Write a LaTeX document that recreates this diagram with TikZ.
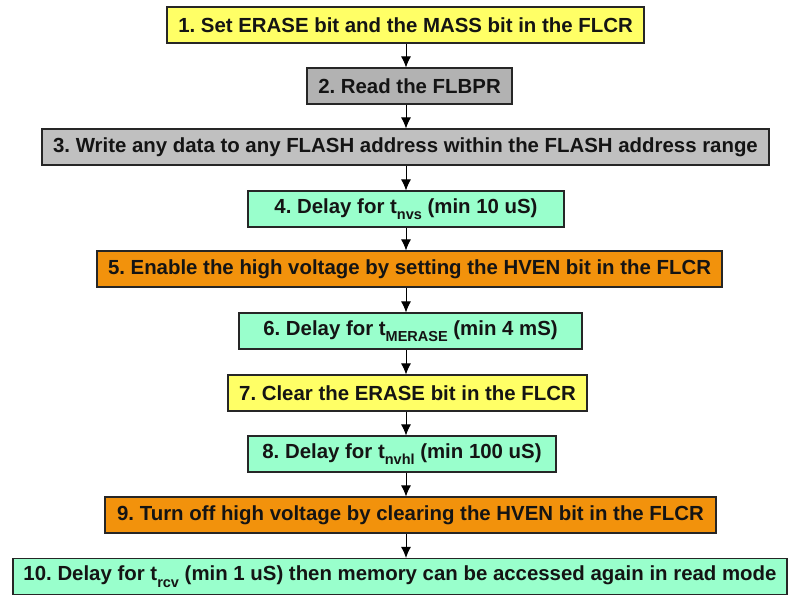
\documentclass[tikz,border=0pt]{standalone}
\usepackage{fontspec}
\setmainfont{Liberation Sans}
\usetikzlibrary{arrows.meta}
\frenchspacing
\definecolor{cyel}{RGB}{255,255,102}
\definecolor{cgrayd}{RGB}{178,178,178}
\definecolor{cgrayl}{RGB}{192,192,192}
\definecolor{cgrn}{RGB}{153,255,204}
\definecolor{corg}{RGB}{242,146,12}
\definecolor{ctxt}{RGB}{20,20,20}
\newcommand\sbs[1]{\raisebox{-0.32em}{\fontsize{14.5}{14.5}\selectfont #1}}
\begin{document}
\begin{tikzpicture}[x=1pt,y=-1pt,
  stepbox/.style={draw=black!85,line width=1.1pt,minimum height=36pt,inner sep=0pt,
     text=ctxt,font=\fontsize{20.4}{24}\selectfont\bfseries},
  arr/.style={line width=1pt,-{Latex[length=11pt,width=10pt]}}]
\useasboundingbox (0,0) rectangle (789,595);
\node[stepbox,fill=cyel,minimum width=477pt] (b1) at (405.5,25) {1. Set ERASE bit and the MASS bit in the FLCR};
\node[stepbox,fill=cgrayd,minimum width=205pt] (b2) at (409.5,86) {2. Read the FLBPR};
\node[stepbox,fill=cgrayl,minimum width=727pt] (b3) at (405.5,147) {3. Write any data to any FLASH address within the FLASH address range};
\node[stepbox,fill=cgrn,minimum width=316pt] (b4) at (406,209) {4. Delay for t\sbs{nvs} (min 10 uS)};
\node[stepbox,fill=corg,minimum width=625pt] (b5) at (409.5,269) {5. Enable the high voltage by setting the HVEN bit in the FLCR};
\node[stepbox,fill=cgrn,minimum width=343pt] (b6) at (410.5,331) {6. Delay for t\sbs{MERASE} (min 4 mS)};
\node[stepbox,fill=cyel,minimum width=359pt] (b7) at (407.5,393) {7. Clear the ERASE bit in the FLCR};
\node[stepbox,fill=cgrn,minimum width=308pt] (b8) at (402,454) {8. Delay for t\sbs{nvhl} (min 100 uS)};
\node[stepbox,fill=corg,minimum width=611pt] (b9) at (410.5,515) {9. Turn off high voltage by clearing the HVEN bit in the FLCR};
\node[stepbox,fill=cgrn,minimum width=774pt] (b10) at (400,576.5) {10. Delay for t\sbs{rcv} (min 1 uS) then memory can be accessed again in read mode};
\coordinate (ax) at (406,0);
\foreach \a/\b in {b1/b2,b2/b3,b3/b4,b4/b5,b5/b6,b6/b7,b7/b8,b8/b9,b9/b10}
  \draw[arr] (\a.south -| ax) -- (\b.north -| ax);
\end{tikzpicture}
\end{document}
